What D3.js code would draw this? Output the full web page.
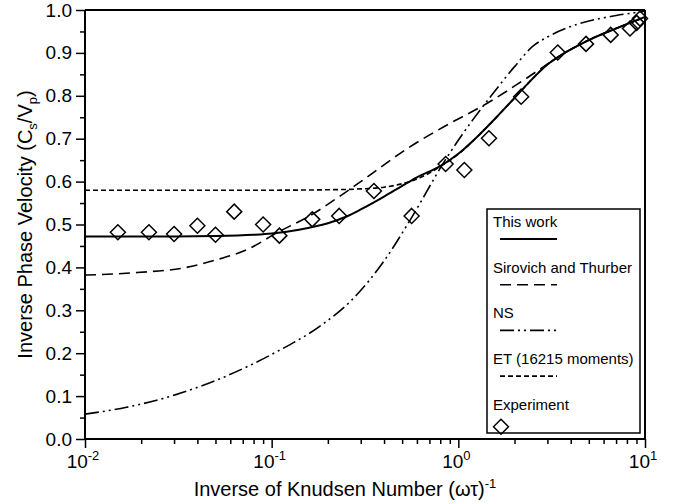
<!DOCTYPE html>
<html><head><meta charset="utf-8">
<script src="https://cdn.jsdelivr.net/npm/d3@7"></script>
<style>
body{margin:0;background:#fff;}
svg text{font-family:"Liberation Sans",Arial,Helvetica,sans-serif;fill:#000;}
</style></head>
<body><svg id="c" width="681" height="504"></svg>
<script>
// ---- data ----
const xTickValues = [0.01, 0.1, 1, 10];
const xTickExps = ["-2", "-1", "0", "1"];
const yTickValues = [0,0.1,0.2,0.3,0.4,0.5,0.6,0.7,0.8,0.9,1.0];
const yTickLabels = ["0.0","0.1","0.2","0.3","0.4","0.5","0.6","0.7","0.8","0.9","1.0"];

const thisWorkX = [0.01,0.03,0.05,0.08,0.1,0.14,0.2,0.25,0.3,0.4,0.5,0.6,0.8,1.0,1.3,1.6,2.0,2.5,3.0,3.5,4.0,5.0,7.0,10];
const thisWorkY = [0.472,0.472,0.473,0.476,0.479,0.488,0.503,0.518,0.535,0.565,0.590,0.610,0.636,0.665,0.710,0.750,0.795,0.840,0.873,0.893,0.908,0.930,0.957,0.984];

const sirovichX = [0.01,0.019,0.035,0.05,0.075,0.106,0.167,0.23,0.3,0.55,0.87,1.42,2.32,3.5,5.0,7.0,10];
const sirovichY = [0.382,0.388,0.400,0.417,0.443,0.480,0.525,0.565,0.600,0.681,0.732,0.782,0.841,0.893,0.930,0.957,0.983];

const nsX = [0.01,0.0167,0.031,0.0574,0.106,0.18,0.27,0.4,0.56,0.85,1.2,1.5,2.0,2.5,3.0,4.5,7.0,10];
const nsY = [0.058,0.074,0.104,0.147,0.203,0.262,0.325,0.415,0.515,0.650,0.745,0.800,0.868,0.915,0.937,0.969,0.987,0.997];

const etX = [0.01,0.1,0.2,0.3,0.4,0.5,0.6,0.7,0.8,1.0,1.3,1.6,2.0,2.5,3.0,3.5,4.0,5.0,7.0,10];
const etY = [0.580,0.580,0.581,0.583,0.587,0.595,0.606,0.620,0.635,0.664,0.710,0.750,0.795,0.840,0.873,0.893,0.908,0.930,0.957,0.984];

const expX = [0.015,0.022,0.030,0.040,0.050,0.063,0.090,0.110,0.165,0.230,0.353,0.562,0.855,1.077,1.459,2.17,3.41,4.83,6.55,8.31,9.02,9.4];
const expY = [0.482,0.482,0.478,0.497,0.476,0.530,0.500,0.474,0.512,0.520,0.578,0.520,0.641,0.627,0.701,0.798,0.901,0.921,0.942,0.957,0.970,0.980];

const legendLabels = ["This work","Sirovich and Thurber","NS","ET (16215 moments)","Experiment"];

// ---- layout ----
const L = 85, R = 645, T = 10, B = 439;
const svg = d3.select("#c");
const x = d3.scaleLog().domain([0.01, 10]).range([L, R]);
const y = d3.scaleLinear().domain([0, 1]).range([B, T]);

const styles = {
  solid: {w: 2, dash: null},
  sirovich: {w: 1.6, dash: "11,6"},
  ns: {w: 1.6, dash: "14,4,2,4,2,4"},
  et: {w: 1.6, dash: "5,3"}
};

const g = svg.append("g");
svg.append("clipPath").attr("id","pc").append("rect")
  .attr("x", L).attr("y", T).attr("width", R-L).attr("height", B-T);

const line = d3.line().x(d => x(d[0])).y(d => y(d[1])).curve(d3.curveMonotoneX);
function drawSeries(xs, ys, st) {
  g.append("path").datum(xs.map((v,i)=>[v, ys[i]]))
    .attr("d", line).attr("fill","none").attr("stroke","#000")
    .attr("stroke-width", st.w).attr("stroke-dasharray", st.dash)
    .attr("clip-path","url(#pc)");
}
drawSeries(etX, etY, styles.et);
drawSeries(nsX, nsY, styles.ns);
drawSeries(sirovichX, sirovichY, styles.sirovich);
drawSeries(thisWorkX, thisWorkY, styles.solid);

const diamond = "M0,-7.5L7.5,0L0,7.5L-7.5,0Z";
g.selectAll(".pt").data(expX.map((v,i)=>[v, expY[i]])).enter().append("path")
  .attr("d", diamond).attr("transform", d => `translate(${x(d[0])},${y(d[1])})`)
  .attr("fill","none").attr("stroke","#000").attr("stroke-width",1.5);

// ---- frame ----
svg.append("line").attr("x1", L).attr("x2", R).attr("y1", T).attr("y2", T).attr("stroke","#000").attr("stroke-width",2);
svg.append("line").attr("x1", R).attr("x2", R).attr("y1", T).attr("y2", B).attr("stroke","#000").attr("stroke-width",2);

// ---- y axis ----
const yAxis = d3.axisLeft(y).tickValues(yTickValues).tickSize(9).tickPadding(4)
  .tickFormat((d,i) => yTickLabels[i]);
const ya = svg.append("g").attr("transform", `translate(${L},0)`).call(yAxis);
ya.select(".domain").attr("stroke-width",2).attr("d", `M0,${B}V${T}`);
ya.selectAll(".tick line").attr("stroke-width",1.5);
ya.selectAll(".tick text").style("font-size","19px").attr("font-family", null);
const yMinor = d3.range(0.05, 1, 0.1);
svg.append("g").attr("transform", `translate(${L},0)`)
  .call(d3.axisLeft(y).tickValues(yMinor).tickSize(5).tickFormat(""))
  .call(s => s.select(".domain").remove())
  .selectAll(".tick line").attr("stroke-width",1.5);

// ---- x axis ----
const xa = svg.append("g").attr("transform", `translate(0,${B})`)
  .call(d3.axisBottom(x).tickValues(xTickValues).tickSize(9).tickFormat(""));
xa.select(".domain").attr("stroke-width",2).attr("d", `M${L},0H${R}`);
xa.selectAll(".tick line").attr("stroke-width",1.5);
const xMinor = [];
[0.01,0.1,1].forEach(dec => { for (let k=2;k<=9;k++) xMinor.push(dec*k); });
svg.append("g").attr("transform", `translate(0,${B})`)
  .call(d3.axisBottom(x).tickValues(xMinor).tickSize(5).tickFormat(""))
  .call(s => s.select(".domain").remove())
  .selectAll(".tick line").attr("stroke-width",1.5);
xTickValues.forEach((v,i) => {
  const t = svg.append("text").attr("x", x(v) - 2).attr("y", 468)
    .attr("text-anchor","middle").style("font-size","19px");
  t.append("tspan").text("10");
  t.append("tspan").attr("dy", -8).style("font-size","13px").text(xTickExps[i]);
});

// ---- axis titles ----
const xt = svg.append("text").attr("x", (L+R)/2 - 20).attr("y", 496)
  .attr("text-anchor","middle").style("font-size","20px");
xt.append("tspan").text("Inverse of Knudsen Number (ωτ)");
xt.append("tspan").attr("dy",-8).style("font-size","13px").text("-1");

const yt = svg.append("text").attr("transform", `translate(32,${(T+B)/2}) rotate(-90)`)
  .attr("text-anchor","middle").style("font-size","20px");
yt.append("tspan").text("Inverse Phase Velocity (C");
yt.append("tspan").attr("dy",5).style("font-size","13px").text("s");
yt.append("tspan").attr("dy",-5).text("/V");
yt.append("tspan").attr("dy",5).style("font-size","13px").text("p");
yt.append("tspan").attr("dy",-5).text(")");

// ---- legend ----
const lg = svg.append("g");
lg.append("rect").attr("x",487).attr("y",209).attr("width",153).attr("height",224)
  .attr("fill","#fff").attr("stroke","#000").attr("stroke-width",1.5);
const legStyles = [styles.solid, styles.sirovich, styles.ns, styles.et, null];
legendLabels.forEach((lab, i) => {
  const ty = 227 + i*45.7;
  lg.append("text").attr("x",493).attr("y",ty).style("font-size","15px").text(lab);
  const ly = ty + 12;
  if (legStyles[i]) {
    lg.append("line").attr("x1",500).attr("x2",557).attr("y1",ly).attr("y2",ly)
      .attr("stroke","#000").attr("stroke-width",legStyles[i].w)
      .attr("stroke-dasharray",legStyles[i].dash);
  } else {
    lg.append("path").attr("d",diamond).attr("transform",`translate(501,${ly+5})`)
      .attr("fill","none").attr("stroke","#000").attr("stroke-width",1.5);
  }
});
</script></body></html>
